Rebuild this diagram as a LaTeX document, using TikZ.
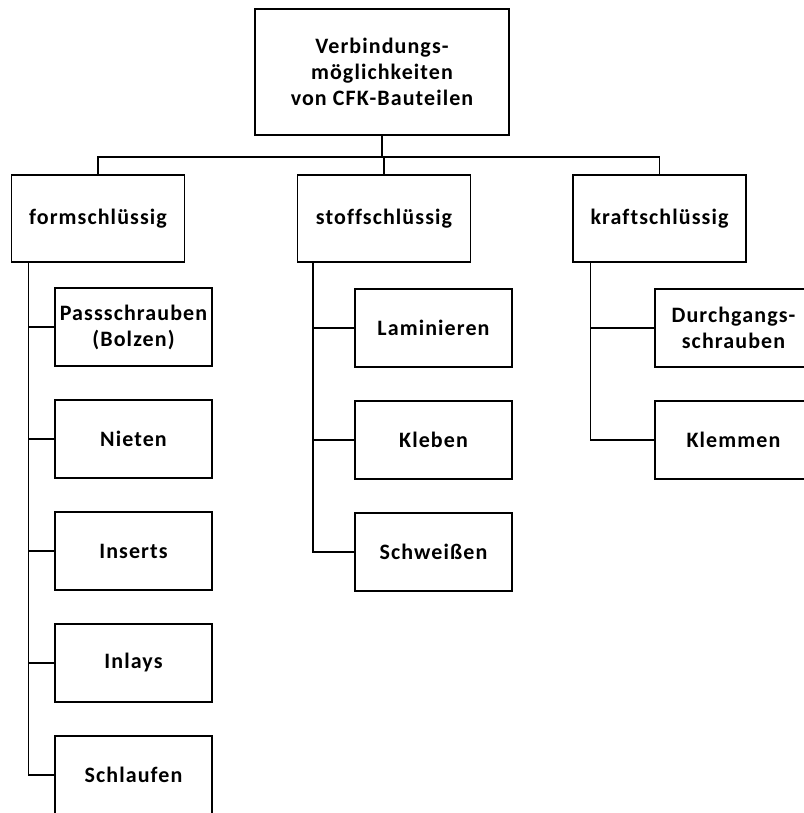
\documentclass[tikz,border=0pt]{standalone}
\usepackage{fontspec}
\setmainfont{Carlito}

\begin{document}
\begin{tikzpicture}[x=1pt,y=-1pt,line width=1.4pt,
  box/.style={draw,line width=1.4pt,align=center,inner sep=2pt,
    font=\fontsize{22}{26}\selectfont\bfseries\addfontfeature{LetterSpace=5,Ligatures=NoCommon}},
  topbox/.style={box,minimum width=254pt,minimum height=126pt},
  groupbox/.style={box,minimum width=173pt,minimum height=87pt},
  itembox/.style={box,minimum width=157pt,minimum height=78pt}]
\useasboundingbox (0,0) rectangle (803,813);
% Wurzel
\node[topbox] (root) at (382,72) {Verbindungs-\\möglichkeiten\\von CFK-Bauteilen};
% Gruppen
\node[groupbox] (form) at (98,218.5) {formschlüssig};
\node[groupbox] (stoff) at (384,218.5) {stoffschlüssig};
\node[groupbox] (kraft) at (659.5,218.5) {kraftschlüssig};
\coordinate (bus) at (382,157);
\draw (root.south) -- (bus);
\draw (form.north) |- (bus) -| (kraft.north);
\draw (stoff.north) -- (stoff.north |- bus);
% formschluessig
\node[itembox] (pass) at (133.5,327) {Passschrauben\\(Bolzen)};
\node[itembox] (niet) at (133.5,439) {Nieten};
\node[itembox] (insert) at (133.5,551) {Inserts};
\node[itembox] (inlay) at (133.5,663) {Inlays};
\node[itembox] (schlauf) at (133.5,775) {Schlaufen};
\draw ([xshift=17.5pt]form.south west) |- (pass.west);
\draw ([xshift=17.5pt]form.south west) |- (niet.west);
\draw ([xshift=17.5pt]form.south west) |- (insert.west);
\draw ([xshift=17.5pt]form.south west) |- (inlay.west);
\draw ([xshift=17.5pt]form.south west) |- (schlauf.west);
% stoffschluessig
\node[itembox] (lamin) at (433.5,328) {Laminieren};
\node[itembox] (kleb) at (433.5,440) {Kleben};
\node[itembox] (schweiss) at (433.5,552) {Schweißen};
\draw ([xshift=16pt]stoff.south west) |- (lamin.west);
\draw ([xshift=16pt]stoff.south west) |- (kleb.west);
\draw ([xshift=16pt]stoff.south west) |- (schweiss.west);
% kraftschluessig
\node[itembox] (durch) at (733.5,328) {Durchgangs-\\schrauben};
\node[itembox] (klemm) at (733.5,440) {Klemmen};
\draw ([xshift=18pt]kraft.south west) |- (durch.west);
\draw ([xshift=18pt]kraft.south west) |- (klemm.west);
\end{tikzpicture}
\end{document}
